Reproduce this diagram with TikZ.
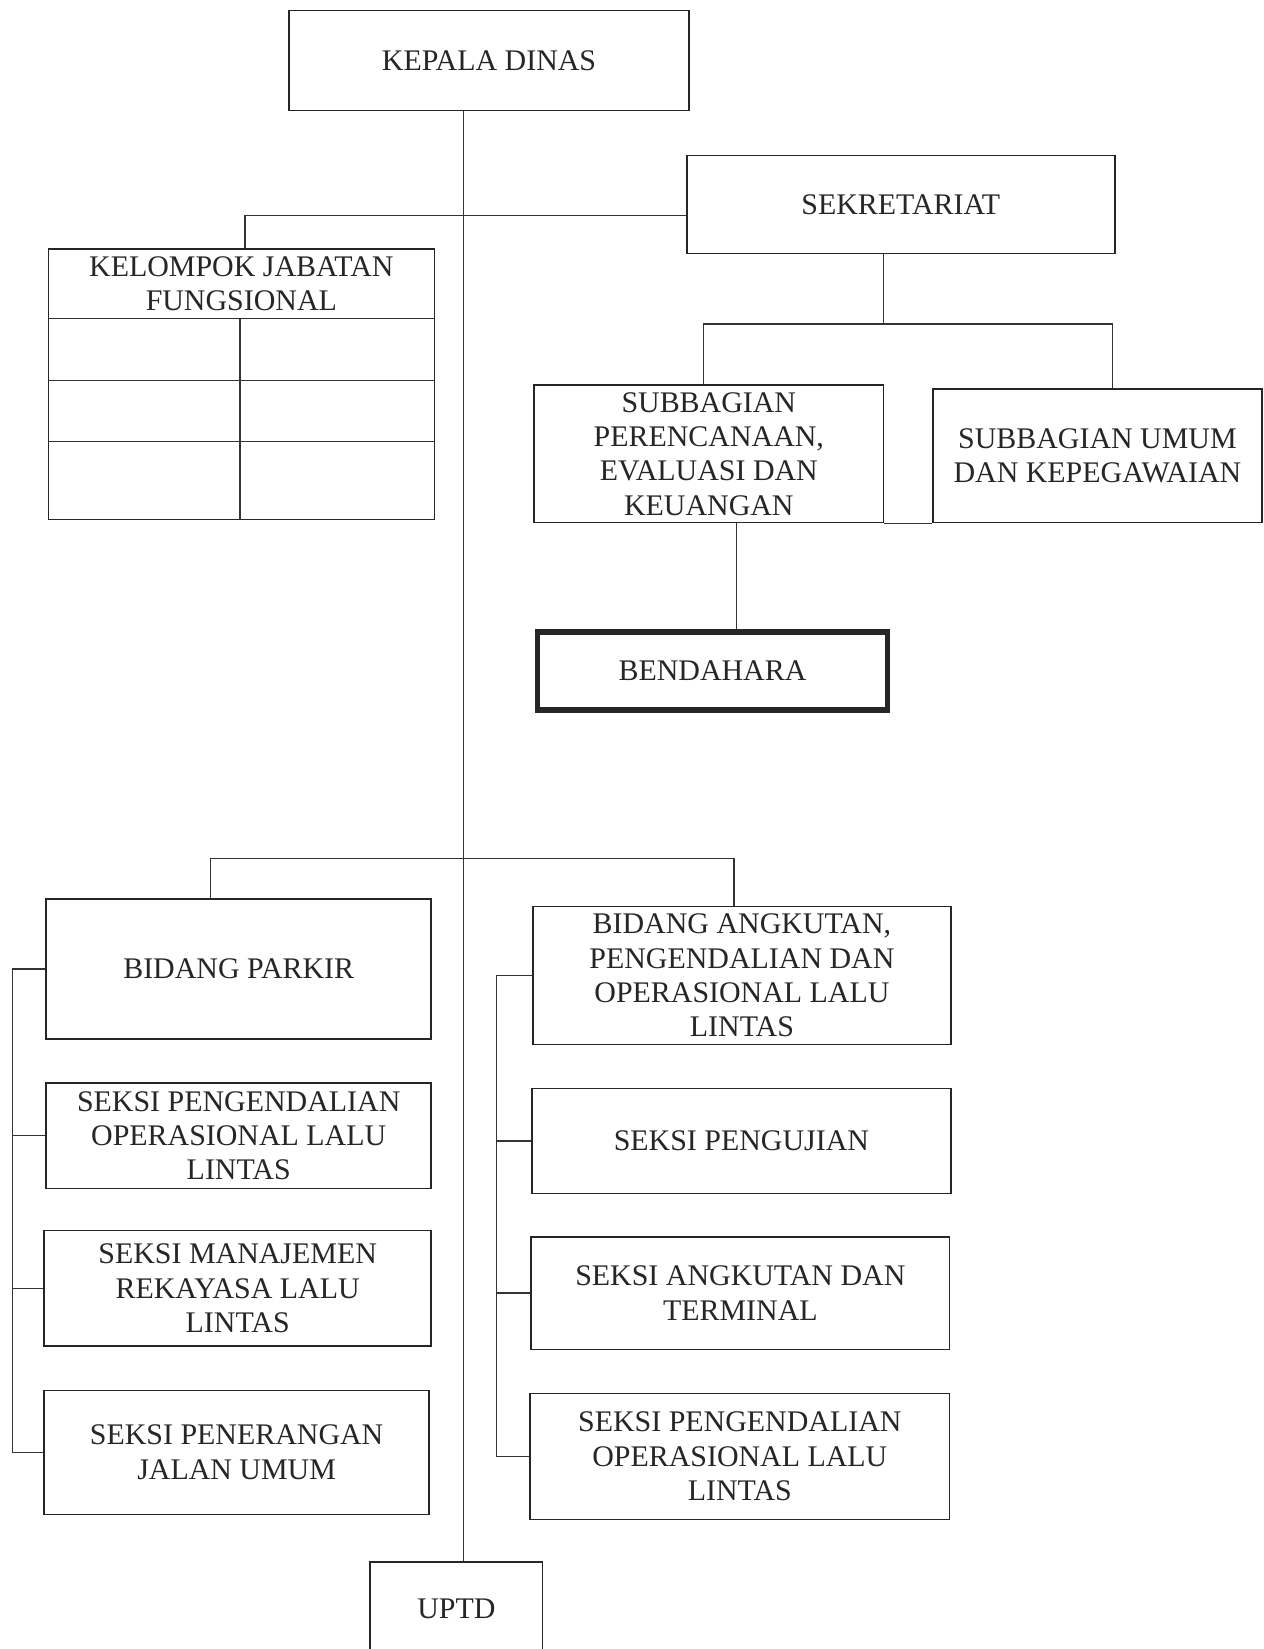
\documentclass[tikz,border=0pt]{standalone}
\usepackage{fontspec}
\setmainfont{Liberation Serif}
\usetikzlibrary{calc}
% box from (x1,y1) to (x2,y2) in picture units, named #2
\newcommand\orgbox[7][]{%
  \node[box,#1,minimum width={(#5-#3)*0.021cm},minimum height={(#6-#4)*0.021cm}]
    (#2) at ({(#3+#5)/2},{(#4+#6)/2}) {#7};}
\begin{document}
\begin{tikzpicture}[x=0.021cm,y=-0.021cm,
  box/.style={draw=black!85, line width=0.9pt, inner sep=0pt, align=center,
    font=\fontsize{17}{19.5}\selectfont, text=black!85},
  heavy/.style={line width=3.2pt, draw=black!85},
  wire/.style={draw=black!80, line width=0.7pt}]
\useasboundingbox[fill=white] (0,0) rectangle (1201,1568);

% top level
\orgbox{kd}{275}{10}{655}{105}{KEPALA DINAS}
\orgbox{sek}{653}{148}{1060}{241}{SEKRETARIAT}

% functional group table
\orgbox{kjf}{46}{237}{413}{494}{}
\node[box, draw=none] (kjft) at (229.5,270) {KELOMPOK JABATAN\\FUNGSIONAL};
\draw[wire, line width=0.9pt] (46,303) -- (413,303) (46,362) -- (413,362)
  (46,420) -- (413,420) (228,303) -- (228,494);

% sub-sections of the secretariat
\orgbox{spek}{508}{366}{840}{497}{SUBBAGIAN\\PERENCANAAN,\\EVALUASI DAN\\KEUANGAN}
\orgbox{suk}{887}{370}{1200}{497}{SUBBAGIAN UMUM\\DAN KEPEGAWAIAN}
\orgbox[heavy]{bend}{511}{601}{844}{675}{BENDAHARA}

% divisions
\orgbox{bp}{44}{855}{410}{988}{BIDANG PARKIR}
\orgbox{spoll}{44}{1030}{410}{1130}{SEKSI PENGENDALIAN\\OPERASIONAL LALU\\LINTAS}
\orgbox{smrll}{42}{1170}{410}{1280}{SEKSI MANAJEMEN\\REKAYASA LALU\\LINTAS}
\orgbox{spju}{42}{1322}{408}{1440}{SEKSI PENERANGAN\\JALAN UMUM}

\orgbox{ba}{507}{862}{904}{993}{BIDANG ANGKUTAN,\\PENGENDALIAN DAN\\OPERASIONAL LALU\\LINTAS}
\orgbox{sp}{506}{1035}{904}{1135}{SEKSI PENGUJIAN}
\orgbox{sat}{505}{1176}{903}{1283}{SEKSI ANGKUTAN DAN\\TERMINAL}
\orgbox{spoll2}{504}{1325}{903}{1445}{SEKSI PENGENDALIAN\\OPERASIONAL LALU\\LINTAS}

\orgbox{uptd}{352}{1485}{516}{1574}{UPTD}

% junction points
\coordinate (trunk) at (441,0);
\coordinate (jk) at (233,205);
\coordinate (js) at (840,308);
\coordinate (jl) at (669,308);
\coordinate (jr) at (1058,308);
\coordinate (jb) at (700,0);
\coordinate (jdl) at (200,816);
\coordinate (jdr) at (698,816);
\coordinate (lb) at (12,0);
\coordinate (rb) at (472,0);

% connectors
\draw[wire] (kd.south -| trunk) -- (uptd.north -| trunk);
\draw[wire] (sek.west |- jk) -- (jk) -- (kjf.north -| jk);
\draw[wire] (sek.south -| js) -- (js);
\draw[wire] (spek.north -| jl) -- (jl) -- (jr) -- (suk.north -| jr);
\draw[wire] (spek.south east) -- (suk.south west);
\draw[wire] (spek.south -| jb) -- (bend.north -| jb);
\draw[wire] (bp.north -| jdl) -- (jdl) -- (jdr) -- (ba.north -| jdr);

\draw[wire] (bp.west) -- (bp.west -| lb) -- (spju.west -| lb) -- (spju.west);
\draw[wire] (spoll.west) -- (spoll.west -| lb);
\draw[wire] (smrll.west) -- (smrll.west -| lb);

\draw[wire] (ba.west) -- (ba.west -| rb) -- (spoll2.west -| rb) -- (spoll2.west);
\draw[wire] (sp.west) -- (sp.west -| rb);
\draw[wire] (sat.west) -- (sat.west -| rb);
\end{tikzpicture}
\end{document}
